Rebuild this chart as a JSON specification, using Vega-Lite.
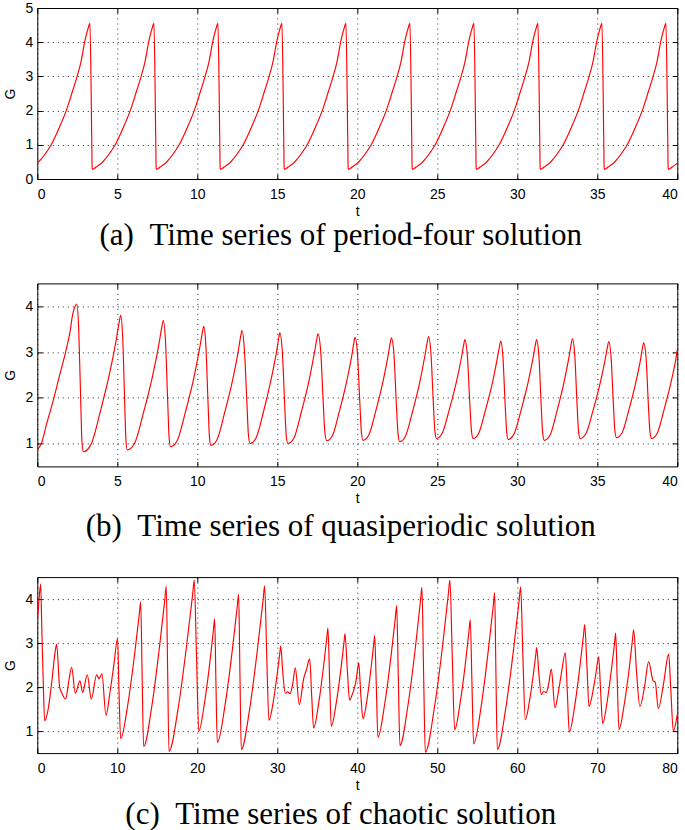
{
"$schema": "https://vega.github.io/schema/vega-lite/v6.json",
"padding": {"left": 2.3, "top": 0, "right": 1, "bottom": 0},
"spacing": 30.4,
"config": {
  "font": "Liberation Sans",
  "view": {"stroke": "#000", "strokeWidth": 1},
  "axis": {"grid": true, "gridColor": "#000", "gridDash": [1, 4], "gridWidth": 1, "gridOpacity": 0.85, "domain": false, "ticks": true, "tickColor": "#000", "tickSize": -5, "labelFont": "Liberation Sans", "labelFontSize": 14, "labelColor": "#000", "titleFont": "Liberation Sans", "titleFontSize": 14, "titleFontWeight": "normal", "titleColor": "#000"},
  "axisX": {"labelPadding": 13, "titlePadding": 3.3},
  "axisY": {"labelPadding": 9.4, "titlePadding": 7.4},
  "title": {"font": "Liberation Serif", "fontSize": 31, "fontWeight": "normal", "orient": "bottom", "anchor": "middle", "frame": "bounds", "offset": 3, "color": "#000"}
},
"datasets": {
"a": [
{"t":0,"G":0.47},{"t":0.24,"G":0.58},{"t":0.49,"G":0.73},{"t":0.87,"G":1.0},{"t":1.34,"G":1.47},{"t":1.81,"G":2.0},{"t":2.19,"G":2.55},{"t":2.49,"G":3.0},{"t":2.74,"G":3.45},{"t":2.96,"G":4.0},{"t":3.16,"G":4.38},{"t":3.29,"G":4.55},{"t":3.37,"G":2.4},{"t":3.42,"G":0.5},
{"t":3.44,"G":0.28},{"t":3.56,"G":0.31},{"t":3.74,"G":0.37},{"t":4.0,"G":0.46},{"t":4.24,"G":0.58},{"t":4.49,"G":0.73},{"t":4.87,"G":1.0},{"t":5.34,"G":1.47},{"t":5.81,"G":2.0},{"t":6.19,"G":2.55},{"t":6.49,"G":3.0},{"t":6.74,"G":3.45},{"t":6.96,"G":4.0},{"t":7.16,"G":4.38},{"t":7.29,"G":4.55},{"t":7.37,"G":2.4},{"t":7.42,"G":0.5},
{"t":7.44,"G":0.28},{"t":7.56,"G":0.31},{"t":7.74,"G":0.37},{"t":8.0,"G":0.46},{"t":8.24,"G":0.58},{"t":8.49,"G":0.73},{"t":8.87,"G":1.0},{"t":9.34,"G":1.47},{"t":9.81,"G":2.0},{"t":10.19,"G":2.55},{"t":10.49,"G":3.0},{"t":10.74,"G":3.45},{"t":10.96,"G":4.0},{"t":11.16,"G":4.38},{"t":11.29,"G":4.55},{"t":11.37,"G":2.4},{"t":11.42,"G":0.5},
{"t":11.44,"G":0.28},{"t":11.56,"G":0.31},{"t":11.74,"G":0.37},{"t":12.0,"G":0.46},{"t":12.24,"G":0.58},{"t":12.49,"G":0.73},{"t":12.87,"G":1.0},{"t":13.34,"G":1.47},{"t":13.81,"G":2.0},{"t":14.19,"G":2.55},{"t":14.49,"G":3.0},{"t":14.74,"G":3.45},{"t":14.96,"G":4.0},{"t":15.16,"G":4.38},{"t":15.29,"G":4.55},{"t":15.37,"G":2.4},{"t":15.42,"G":0.5},
{"t":15.44,"G":0.28},{"t":15.56,"G":0.31},{"t":15.74,"G":0.37},{"t":16.0,"G":0.46},{"t":16.24,"G":0.58},{"t":16.49,"G":0.73},{"t":16.87,"G":1.0},{"t":17.34,"G":1.47},{"t":17.81,"G":2.0},{"t":18.19,"G":2.55},{"t":18.49,"G":3.0},{"t":18.74,"G":3.45},{"t":18.96,"G":4.0},{"t":19.16,"G":4.38},{"t":19.29,"G":4.55},{"t":19.37,"G":2.4},{"t":19.42,"G":0.5},
{"t":19.44,"G":0.28},{"t":19.56,"G":0.31},{"t":19.74,"G":0.37},{"t":20.0,"G":0.46},{"t":20.24,"G":0.58},{"t":20.49,"G":0.73},{"t":20.87,"G":1.0},{"t":21.34,"G":1.47},{"t":21.81,"G":2.0},{"t":22.19,"G":2.55},{"t":22.49,"G":3.0},{"t":22.74,"G":3.45},{"t":22.96,"G":4.0},{"t":23.16,"G":4.38},{"t":23.29,"G":4.55},{"t":23.37,"G":2.4},{"t":23.42,"G":0.5},
{"t":23.44,"G":0.28},{"t":23.56,"G":0.31},{"t":23.74,"G":0.37},{"t":24.0,"G":0.46},{"t":24.24,"G":0.58},{"t":24.49,"G":0.73},{"t":24.87,"G":1.0},{"t":25.34,"G":1.47},{"t":25.81,"G":2.0},{"t":26.19,"G":2.55},{"t":26.49,"G":3.0},{"t":26.74,"G":3.45},{"t":26.96,"G":4.0},{"t":27.16,"G":4.38},{"t":27.29,"G":4.55},{"t":27.37,"G":2.4},{"t":27.42,"G":0.5},
{"t":27.44,"G":0.28},{"t":27.56,"G":0.31},{"t":27.74,"G":0.37},{"t":28.0,"G":0.46},{"t":28.24,"G":0.58},{"t":28.49,"G":0.73},{"t":28.87,"G":1.0},{"t":29.34,"G":1.47},{"t":29.81,"G":2.0},{"t":30.19,"G":2.55},{"t":30.49,"G":3.0},{"t":30.74,"G":3.45},{"t":30.96,"G":4.0},{"t":31.16,"G":4.38},{"t":31.29,"G":4.55},{"t":31.37,"G":2.4},{"t":31.42,"G":0.5},
{"t":31.44,"G":0.28},{"t":31.56,"G":0.31},{"t":31.74,"G":0.37},{"t":32.0,"G":0.46},{"t":32.24,"G":0.58},{"t":32.49,"G":0.73},{"t":32.87,"G":1.0},{"t":33.34,"G":1.47},{"t":33.81,"G":2.0},{"t":34.19,"G":2.55},{"t":34.49,"G":3.0},{"t":34.74,"G":3.45},{"t":34.96,"G":4.0},{"t":35.16,"G":4.38},{"t":35.29,"G":4.55},{"t":35.37,"G":2.4},{"t":35.42,"G":0.5},
{"t":35.44,"G":0.28},{"t":35.56,"G":0.31},{"t":35.74,"G":0.37},{"t":36.0,"G":0.46},{"t":36.24,"G":0.58},{"t":36.49,"G":0.73},{"t":36.87,"G":1.0},{"t":37.34,"G":1.47},{"t":37.81,"G":2.0},{"t":38.19,"G":2.55},{"t":38.49,"G":3.0},{"t":38.74,"G":3.45},{"t":38.96,"G":4.0},{"t":39.16,"G":4.38},{"t":39.29,"G":4.55},{"t":39.37,"G":2.4},{"t":39.42,"G":0.5},
{"t":39.44,"G":0.28},{"t":39.56,"G":0.31},{"t":39.74,"G":0.37},{"t":40.0,"G":0.46}
],
"b": [
{"t":0,"G":0.86},{"t":0.25,"G":1.0},{"t":0.6,"G":1.45},{"t":1.04,"G":2.0},{"t":1.4,"G":2.5},{"t":1.77,"G":3.0},{"t":2.05,"G":3.45},{"t":2.2,"G":3.8},{"t":2.36,"G":4.0},{"t":2.46,"G":4.05},
{"t":2.585,"G":3.53},{"t":2.71,"G":1.98},{"t":2.79,"G":1.05},{"t":2.875,"G":0.82},
{"t":3.342,"G":0.97},{"t":3.926,"G":1.68},{"t":4.51,"G":2.52},{"t":4.93,"G":3.26},{"t":5.117,"G":3.65},{"t":5.21,"G":3.8},
{"t":5.335,"G":3.33},{"t":5.46,"G":1.92},{"t":5.54,"G":1.07},{"t":5.625,"G":0.86},
{"t":6.075,"G":1.0},{"t":6.64,"G":1.68},{"t":7.2,"G":2.47},{"t":7.605,"G":3.18},{"t":7.785,"G":3.55},{"t":7.875,"G":3.69},
{"t":8.01,"G":3.25},{"t":8.15,"G":1.92},{"t":8.24,"G":1.12},{"t":8.33,"G":0.93},
{"t":8.74,"G":1.06},{"t":9.26,"G":1.69},{"t":9.78,"G":2.43},{"t":10.15,"G":3.09},{"t":10.32,"G":3.43},{"t":10.4,"G":3.56},
{"t":10.535,"G":3.14},{"t":10.67,"G":1.9},{"t":10.76,"G":1.14},{"t":10.85,"G":0.96},
{"t":11.24,"G":1.09},{"t":11.72,"G":1.69},{"t":12.21,"G":2.39},{"t":12.56,"G":3.02},{"t":12.71,"G":3.34},{"t":12.79,"G":3.47},
{"t":12.94,"G":3.07},{"t":13.1,"G":1.89},{"t":13.2,"G":1.17},{"t":13.3,"G":1.0},
{"t":13.67,"G":1.12},{"t":14.14,"G":1.7},{"t":14.6,"G":2.38},{"t":14.94,"G":2.98},{"t":15.09,"G":3.3},{"t":15.16,"G":3.42},
{"t":15.31,"G":3.03},{"t":15.46,"G":1.87},{"t":15.56,"G":1.17},{"t":15.66,"G":1.0},
{"t":16.04,"G":1.12},{"t":16.51,"G":1.7},{"t":16.98,"G":2.37},{"t":17.31,"G":2.97},{"t":17.47,"G":3.28},{"t":17.54,"G":3.4},
{"t":17.71,"G":3.03},{"t":17.87,"G":1.9},{"t":17.98,"G":1.22},{"t":18.09,"G":1.06},
{"t":18.44,"G":1.17},{"t":18.89,"G":1.72},{"t":19.33,"G":2.35},{"t":19.65,"G":2.91},{"t":19.79,"G":3.21},{"t":19.86,"G":3.32},
{"t":20.01,"G":2.96},{"t":20.16,"G":1.88},{"t":20.26,"G":1.23},{"t":20.36,"G":1.07},
{"t":20.71,"G":1.18},{"t":21.16,"G":1.72},{"t":21.6,"G":2.35},{"t":21.92,"G":2.91},{"t":22.06,"G":3.2},{"t":22.13,"G":3.31},
{"t":22.29,"G":2.95},{"t":22.44,"G":1.86},{"t":22.55,"G":1.2},{"t":22.65,"G":1.04},
{"t":23.01,"G":1.16},{"t":23.46,"G":1.71},{"t":23.91,"G":2.35},{"t":24.23,"G":2.93},{"t":24.38,"G":3.23},{"t":24.45,"G":3.34},
{"t":24.6,"G":2.98},{"t":24.75,"G":1.91},{"t":24.85,"G":1.27},{"t":24.95,"G":1.11},
{"t":25.3,"G":1.22},{"t":25.75,"G":1.74},{"t":26.19,"G":2.34},{"t":26.51,"G":2.88},{"t":26.65,"G":3.16},{"t":26.72,"G":3.27},
{"t":26.88,"G":2.92},{"t":27.03,"G":1.89},{"t":27.14,"G":1.26},{"t":27.24,"G":1.11},
{"t":27.58,"G":1.22},{"t":28.01,"G":1.73},{"t":28.44,"G":2.32},{"t":28.75,"G":2.86},{"t":28.89,"G":3.13},{"t":28.96,"G":3.24},
{"t":29.1,"G":2.9},{"t":29.24,"G":1.86},{"t":29.34,"G":1.24},{"t":29.43,"G":1.09},
{"t":29.78,"G":1.2},{"t":30.23,"G":1.72},{"t":30.67,"G":2.33},{"t":30.99,"G":2.88},{"t":31.13,"G":3.16},{"t":31.2,"G":3.27},
{"t":31.35,"G":2.92},{"t":31.49,"G":1.86},{"t":31.59,"G":1.22},{"t":31.69,"G":1.07},
{"t":32.04,"G":1.18},{"t":32.48,"G":1.71},{"t":32.92,"G":2.34},{"t":33.23,"G":2.89},{"t":33.37,"G":3.18},{"t":33.44,"G":3.29},
{"t":33.59,"G":2.94},{"t":33.73,"G":1.89},{"t":33.83,"G":1.26},{"t":33.93,"G":1.11},
{"t":34.29,"G":1.22},{"t":34.73,"G":1.72},{"t":35.18,"G":2.32},{"t":35.5,"G":2.85},{"t":35.64,"G":3.12},{"t":35.71,"G":3.23},
{"t":35.86,"G":2.89},{"t":36.0,"G":1.89},{"t":36.1,"G":1.28},{"t":36.2,"G":1.13},
{"t":36.54,"G":1.23},{"t":36.97,"G":1.73},{"t":37.39,"G":2.31},{"t":37.7,"G":2.83},{"t":37.83,"G":3.1},{"t":37.9,"G":3.2},
{"t":38.05,"G":2.87},{"t":38.19,"G":1.86},{"t":38.29,"G":1.26},{"t":38.39,"G":1.11},
{"t":38.74,"G":1.22},{"t":39.18,"G":1.75},{"t":39.62,"G":2.36},{"t":39.94,"G":2.91},{"t":40,"G":3.05}
],
"c": [
{"t":0,"G":3.47},{"t":0.2,"G":3.95},{"t":0.42,"G":4.34},{"t":0.58,"G":3.2},{"t":0.75,"G":2.07},{"t":0.92,"G":1.23},
{"t":1.33,"G":1.47},{"t":1.83,"G":2.15},{"t":2.25,"G":2.83},{"t":2.42,"G":2.97},
{"t":2.79,"G":2.0},{"t":3.08,"G":1.86},{"t":3.54,"G":1.73},
{"t":3.95,"G":2.15},{"t":4.29,"G":2.45},{"t":4.75,"G":1.86},{"t":5.33,"G":2.14},{"t":5.67,"G":1.88},{"t":6.25,"G":2.28},{"t":6.75,"G":1.73},{"t":7.42,"G":2.28},{"t":7.71,"G":2.19},{"t":8.08,"G":2.3},{"t":8.58,"G":1.36},
{"t":9.1,"G":1.9},{"t":9.6,"G":2.55},{"t":10.04,"G":3.11},{"t":10.2,"G":2.0},{"t":10.42,"G":0.83},
{"t":11.32,"G":1.61},{"t":12.17,"G":2.76},{"t":12.75,"G":3.66},{"t":12.92,"G":3.94},{"t":13.1,"G":2.3},{"t":13.29,"G":0.65},
{"t":14.31,"G":1.56},{"t":15.27,"G":2.91},{"t":15.92,"G":3.96},{"t":16.12,"G":4.29},{"t":16.29,"G":2.4},{"t":16.46,"G":0.54},
{"t":17.6,"G":1.51},{"t":18.67,"G":2.95},{"t":19.4,"G":4.08},{"t":19.62,"G":4.43},{"t":19.9,"G":2.7},{"t":20.19,"G":1.0},
{"t":20.9,"G":1.64},{"t":21.58,"G":2.58},{"t":22.03,"G":3.32},{"t":22.17,"G":3.55},{"t":22.33,"G":2.1},{"t":22.5,"G":0.74},
{"t":23.46,"G":1.58},{"t":24.37,"G":2.83},{"t":24.98,"G":3.81},{"t":25.17,"G":4.11},{"t":25.33,"G":2.3},{"t":25.5,"G":0.58},
{"t":26.55,"G":1.51},{"t":27.54,"G":2.89},{"t":28.22,"G":3.97},{"t":28.42,"G":4.3},{"t":28.68,"G":2.7},{"t":28.96,"G":1.24},
{"t":29.49,"G":1.66},{"t":29.98,"G":2.29},{"t":30.32,"G":2.78},{"t":30.42,"G":2.93},{"t":30.7,"G":2.3},{"t":31.0,"G":1.86},{"t":31.3,"G":1.89},{"t":31.6,"G":1.85},
{"t":31.95,"G":2.1},{"t":32.25,"G":2.44},{"t":32.75,"G":1.6},{"t":33.3,"G":2.2},{"t":33.65,"G":2.4},{"t":34.04,"G":2.64},{"t":34.3,"G":1.8},{"t":34.54,"G":1.07},
{"t":35.18,"G":1.64},{"t":35.79,"G":2.48},{"t":36.2,"G":3.14},{"t":36.33,"G":3.34},{"t":36.55,"G":2.1},{"t":36.75,"G":1.11},
{"t":37.37,"G":1.64},{"t":37.95,"G":2.41},{"t":38.34,"G":3.02},{"t":38.46,"G":3.21},{"t":38.75,"G":2.4},{"t":39.04,"G":1.7},
{"t":39.4,"G":1.85},{"t":39.8,"G":2.1},{"t":40.0,"G":2.35},{"t":40.17,"G":2.55},{"t":40.45,"G":1.8},{"t":40.71,"G":1.28},
{"t":41.24,"G":1.75},{"t":41.73,"G":2.45},{"t":42.07,"G":3.0},{"t":42.17,"G":3.17},{"t":42.38,"G":2.0},{"t":42.58,"G":0.86},
{"t":43.42,"G":1.61},{"t":44.22,"G":2.71},{"t":44.76,"G":3.58},{"t":44.92,"G":3.85},{"t":45.13,"G":2.2},{"t":45.33,"G":0.67},
{"t":46.32,"G":1.57},{"t":47.26,"G":2.9},{"t":47.89,"G":3.95},{"t":48.08,"G":4.27},{"t":48.29,"G":2.3},{"t":48.5,"G":0.52},
{"t":49.61,"G":1.5},{"t":50.66,"G":2.94},{"t":51.36,"G":4.08},{"t":51.58,"G":4.43},{"t":51.87,"G":2.7},{"t":52.17,"G":1.03},
{"t":52.87,"G":1.66},{"t":53.54,"G":2.58},{"t":53.98,"G":3.31},{"t":54.12,"G":3.53},{"t":54.33,"G":2.1},{"t":54.54,"G":0.71},
{"t":55.49,"G":1.57},{"t":56.38,"G":2.84},{"t":56.99,"G":3.84},{"t":57.17,"G":4.15},{"t":57.33,"G":2.3},{"t":57.5,"G":0.58},
{"t":58.55,"G":1.51},{"t":59.54,"G":2.87},{"t":60.22,"G":3.95},{"t":60.42,"G":4.28},{"t":60.7,"G":2.7},{"t":61.0,"G":1.26},
{"t":61.51,"G":1.67},{"t":62.0,"G":2.28},{"t":62.32,"G":2.75},{"t":62.42,"G":2.9},{"t":62.7,"G":2.3},{"t":63.0,"G":1.83},{"t":63.3,"G":1.9},{"t":63.62,"G":1.88},
{"t":63.95,"G":2.1},{"t":64.25,"G":2.41},{"t":64.71,"G":1.53},{"t":65.1,"G":1.85},{"t":65.5,"G":2.3},{"t":66.0,"G":2.78},{"t":66.25,"G":1.9},{"t":66.5,"G":0.98},
{"t":67.19,"G":1.59},{"t":67.84,"G":2.49},{"t":68.29,"G":3.2},{"t":68.42,"G":3.42},{"t":68.7,"G":2.5},{"t":68.96,"G":1.56},
{"t":69.5,"G":1.95},{"t":69.9,"G":2.4},{"t":70.17,"G":2.69},{"t":70.42,"G":1.9},{"t":70.67,"G":1.17},
{"t":71.25,"G":1.69},{"t":71.8,"G":2.45},{"t":72.18,"G":3.04},{"t":72.29,"G":3.23},{"t":72.5,"G":2.1},{"t":72.71,"G":1.04},
{"t":73.37,"G":1.61},{"t":74.0,"G":2.44},{"t":74.41,"G":3.1},{"t":74.54,"G":3.3},{"t":74.92,"G":2.3},{"t":75.33,"G":1.56},
{"t":75.9,"G":2.0},{"t":76.42,"G":2.58},{"t":76.96,"G":2.15},{"t":77.25,"G":2.11},{"t":77.62,"G":1.51},{"t":78.3,"G":2.1},{"t":78.92,"G":2.75},{"t":79.2,"G":1.9},{"t":79.5,"G":1.0},{"t":80,"G":1.38}
]
},
"vconcat": [
{
  "width": 640, "height": 171,
  "title": {"text": "(a)\u2002Time series of period-four solution", "offset": 3},
  "data": {"name": "a"},
  "layer": [
    {
      "mark": {"type": "line", "color": "#ff0000", "strokeWidth": 1.15, "interpolate": "monotone", "clip": true},
      "encoding": {
        "x": {"field": "t", "type": "quantitative", "scale": {"domain": [0, 40], "nice": false, "zero": false}, "axis": {"orient": "bottom", "values": [0, 5, 10, 15, 20, 25, 30, 35, 40], "title": "t"}},
        "y": {"field": "G", "type": "quantitative", "scale": {"domain": [0, 5], "nice": false, "zero": false}, "axis": {"orient": "left", "values": [0, 1, 2, 3, 4, 5], "title": "G"}}
      }
    },
    {
      "mark": {"type": "line", "opacity": 0},
      "encoding": {
        "x": {"field": "t", "type": "quantitative", "scale": {"domain": [0, 40], "nice": false, "zero": false}, "axis": {"orient": "top", "values": [0, 5, 10, 15, 20, 25, 30, 35, 40], "labels": false, "grid": false, "title": null}},
        "y": {"field": "G", "type": "quantitative", "scale": {"domain": [0, 5], "nice": false, "zero": false}, "axis": {"orient": "right", "values": [0, 1, 2, 3, 4, 5], "labels": false, "grid": false, "title": null}}
      }
    }
  ],
  "resolve": {"axis": {"x": "independent", "y": "independent"}}
},
{
  "spacing": 33.7,
  "vconcat": [
  {
    "width": 640, "height": 183,
    "title": {"text": "(b)\u2002Time series of quasiperiodic solution", "offset": 6},
    "data": {"name": "b"},
    "layer": [
      {
        "mark": {"type": "line", "color": "#ff0000", "strokeWidth": 1.15, "interpolate": "monotone", "clip": true},
        "encoding": {
          "x": {"field": "t", "type": "quantitative", "scale": {"domain": [0, 40], "nice": false, "zero": false}, "axis": {"orient": "bottom", "values": [0, 5, 10, 15, 20, 25, 30, 35, 40], "title": "t"}},
          "y": {"field": "G", "type": "quantitative", "scale": {"domain": [0.5, 4.5], "nice": false, "zero": false}, "axis": {"orient": "left", "values": [1, 2, 3, 4], "title": "G"}}
        }
      },
      {
        "mark": {"type": "line", "opacity": 0},
        "encoding": {
          "x": {"field": "t", "type": "quantitative", "scale": {"domain": [0, 40], "nice": false, "zero": false}, "axis": {"orient": "top", "values": [0, 5, 10, 15, 20, 25, 30, 35, 40], "labels": false, "grid": false, "title": null}},
          "y": {"field": "G", "type": "quantitative", "scale": {"domain": [0.5, 4.5], "nice": false, "zero": false}, "axis": {"orient": "right", "values": [1, 2, 3, 4], "labels": false, "grid": false, "title": null}}
        }
      }
    ],
    "resolve": {"axis": {"x": "independent", "y": "independent"}}
  },
  {
    "width": 640, "height": 176,
    "title": {"text": "(c)\u2002Time series of chaotic solution", "offset": 8},
    "data": {"name": "c"},
    "layer": [
      {
        "mark": {"type": "line", "color": "#ff0000", "strokeWidth": 1.15, "interpolate": "monotone", "clip": true},
        "encoding": {
          "x": {"field": "t", "type": "quantitative", "scale": {"domain": [0, 80], "nice": false, "zero": false}, "axis": {"orient": "bottom", "values": [0, 10, 20, 30, 40, 50, 60, 70, 80], "title": "t"}},
          "y": {"field": "G", "type": "quantitative", "scale": {"domain": [0.5, 4.5], "nice": false, "zero": false}, "axis": {"orient": "left", "values": [1, 2, 3, 4], "title": "G"}}
        }
      },
      {
        "mark": {"type": "line", "opacity": 0},
        "encoding": {
          "x": {"field": "t", "type": "quantitative", "scale": {"domain": [0, 80], "nice": false, "zero": false}, "axis": {"orient": "top", "values": [0, 10, 20, 30, 40, 50, 60, 70, 80], "labels": false, "grid": false, "title": null}},
          "y": {"field": "G", "type": "quantitative", "scale": {"domain": [0.5, 4.5], "nice": false, "zero": false}, "axis": {"orient": "right", "values": [1, 2, 3, 4], "labels": false, "grid": false, "title": null}}
        }
      }
    ],
    "resolve": {"axis": {"x": "independent", "y": "independent"}}
  }
  ]
}
]
}
